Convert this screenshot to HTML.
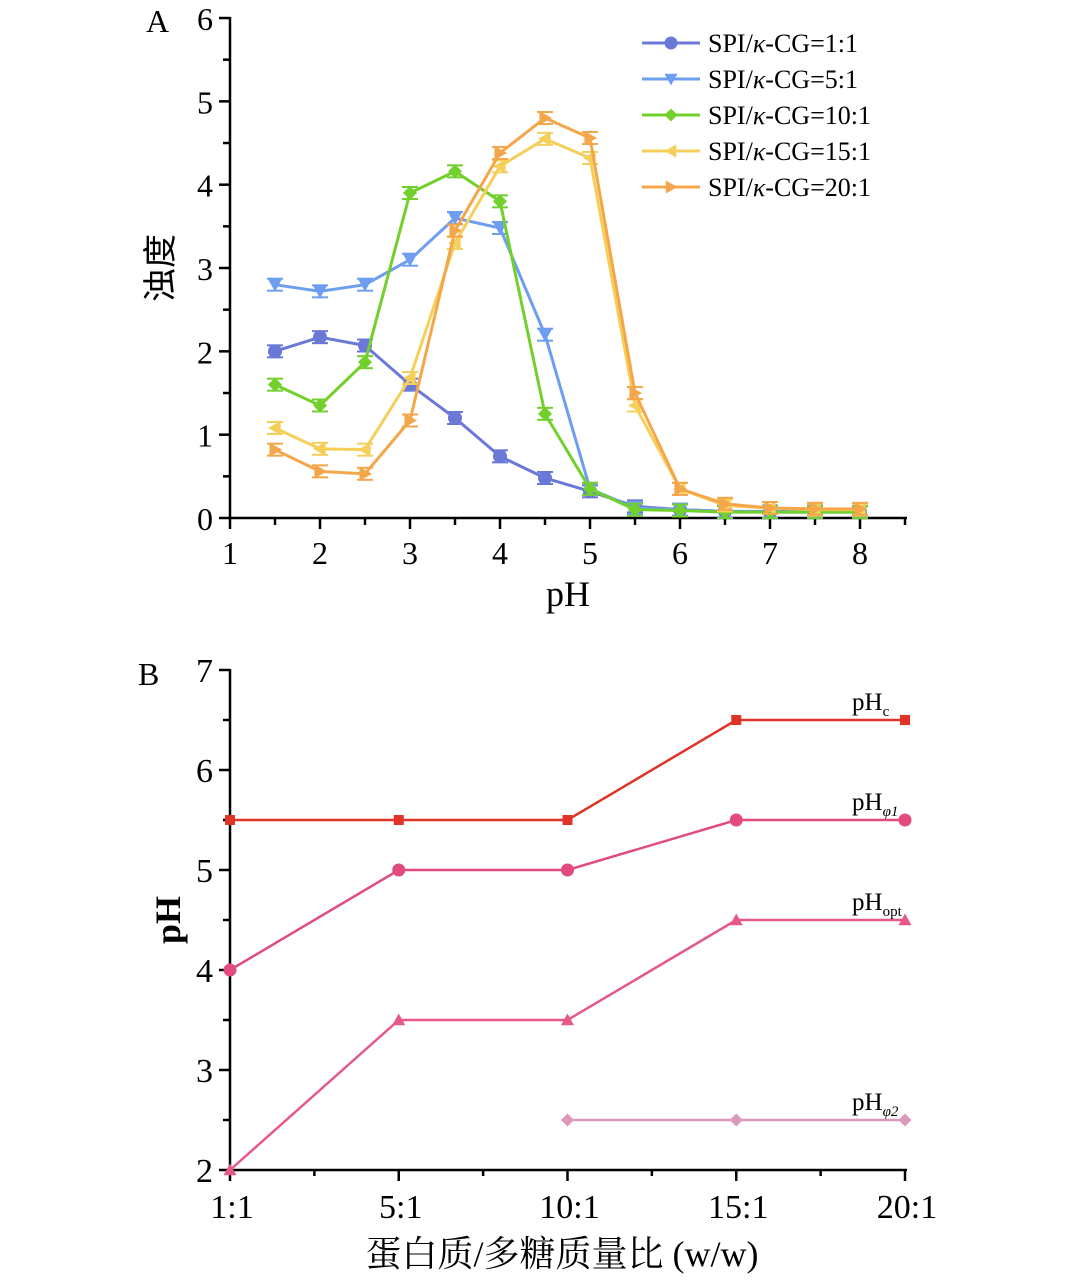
<!DOCTYPE html>
<html><head><meta charset="utf-8"><style>
html,body{margin:0;padding:0;background:#fff;}
svg{display:block;font-family:"Liberation Serif","Noto Serif CJK SC",serif;}
</style></head><body>
<svg id="c" width="1080" height="1280" viewBox="0 0 1080 1280" xmlns="http://www.w3.org/2000/svg"></svg>
<script>
const phValues=[1.5,2,2.5,3,3.5,4,4.5,5,5.5,6,6.5,7,7.5,8];
const s1=[2.0,2.17,2.07,1.6,1.2,0.74,0.48,0.32,0.14,0.1,0.08,0.07,0.07,0.07];
const s5=[2.8,2.72,2.8,3.1,3.6,3.48,2.2,0.35,0.12,0.1,0.08,0.08,0.08,0.07];
const s10=[1.6,1.35,1.87,3.9,4.16,3.8,1.25,0.35,0.1,0.09,0.07,0.07,0.07,0.07];
const s15=[1.08,0.83,0.82,1.68,3.3,4.22,4.55,4.32,1.35,0.35,0.15,0.12,0.1,0.1];
const s20=[0.82,0.56,0.53,1.17,3.45,4.38,4.8,4.56,1.5,0.35,0.17,0.12,0.11,0.11];
const seriesNamesA=["SPI/κ-CG=1:1","SPI/κ-CG=5:1","SPI/κ-CG=10:1","SPI/κ-CG=15:1","SPI/κ-CG=20:1"];
const xTicksA=[1,2,3,4,5,6,7,8];
const yTicksA=[0,1,2,3,4,5,6];
const ratioCats=["1:1","5:1","10:1","15:1","20:1"];
const pHc=[5.5,5.5,5.5,6.5,6.5];
const pHphi1=[4,5,5,5.5,5.5];
const pHopt=[2,3.5,3.5,4.5,4.5];
const pHphi2=[null,null,2.5,2.5,2.5];
const yTicksB=[2,3,4,5,6,7];

const svg=document.getElementById('c');
const NS="http://www.w3.org/2000/svg";
function el(tag,attrs,parent){const e=document.createElementNS(NS,tag);for(const k in attrs)e.setAttribute(k,attrs[k]);(parent||svg).appendChild(e);return e;}
function txt(s,attrs,parent){const e=el('text',attrs,parent);e.textContent=s;return e;}

const xA=v=>230+(v-1)*90;
const yA=v=>518-v*83.33;
const xB=i=>230+i*168.75;
const yB=v=>1170-(v-2)*100;

function marker(g,shape,x,y,color,r){
  let m;
  if(shape==='circle')m=el('circle',{cx:x,cy:y,r:r,fill:color},g);
  else if(shape==='down')m=el('polygon',{points:`${x-r},${y-r*0.8} ${x+r},${y-r*0.8} ${x},${y+r}`,fill:color},g);
  else if(shape==='up')m=el('polygon',{points:`${x-r},${y+r*0.8} ${x+r},${y+r*0.8} ${x},${y-r}`,fill:color},g);
  else if(shape==='diamond')m=el('polygon',{points:`${x},${y-r} ${x+r},${y} ${x},${y+r} ${x-r},${y}`,fill:color},g);
  else if(shape==='left')m=el('polygon',{points:`${x+r*0.8},${y-r} ${x+r*0.8},${y+r} ${x-r},${y}`,fill:color},g);
  else if(shape==='right')m=el('polygon',{points:`${x-r*0.8},${y-r} ${x-r*0.8},${y+r} ${x+r},${y}`,fill:color},g);
  else if(shape==='square')m=el('rect',{x:x-r,y:y-r,width:2*r,height:2*r,fill:color},g);
  return m;
}

// ---- Panel A ----
const gA=el('g',{});


const axA=el('g',{stroke:'#000','stroke-width':2.5},gA);


el('line',{x1:230,y1:17,x2:230,y2:519},axA);
el('line',{x1:229,y1:518,x2:907,y2:518},axA);
for(let v=1;v<=8.5;v+=0.5){const x=xA(v);el('line',{x1:x,y1:518,x2:x,y2:v%1===0?529:525},axA);}
for(let v=0;v<=6;v+=0.5){const y=yA(v);el('line',{x1:230,y1:y,x2:v%1===0?219:223,y2:y},axA);}
xTicksA.forEach(v=>{const t=txt(String(v),{x:xA(v),y:564,'font-size':32,'text-anchor':'middle'},gA);});
yTicksA.forEach(v=>{const t=txt(String(v),{x:213,y:yA(v)+12,'font-size':32,'text-anchor':'end'},gA);});
let t=txt('pH',{x:568,y:606,'font-size':36,'text-anchor':'middle'},gA);

t=txt('浊度',{x:0,y:0,'font-size':34,'text-anchor':'middle',transform:'translate(172,268) rotate(-90)','font-family':'"Noto Sans CJK SC",sans-serif'},gA);

t=txt('A',{x:146,y:32,'font-size':32},gA);


const seriesA=[s1,s5,s10,s15,s20];
const colorsA=['#6a78d8','#6d9ef0','#72d02c','#f5cf5a','#f4a64a'];
const shapesA=['circle','down','diamond','left','right'];
seriesA.forEach((arr,si)=>{
  const g=el('g',{},gA);
  
  
  const pts=arr.map((v,i)=>xA(phValues[i])+','+yA(v)).join(' ');
  el('polyline',{points:pts,fill:'none',stroke:colorsA[si],'stroke-width':3},g);
  arr.forEach((v,i)=>{
    const x=xA(phValues[i]),y=yA(v);
    el('line',{x1:x-8,y1:y-6,x2:x+8,y2:y-6,stroke:colorsA[si],'stroke-width':2},g);
    el('line',{x1:x-8,y1:y+6,x2:x+8,y2:y+6,stroke:colorsA[si],'stroke-width':2},g);
    const m=marker(g,shapesA[si],x,y,colorsA[si],7);
    
    
  });
  const ly=43+si*36;
  const lg=el('g',{},gA);
  
  
  el('line',{x1:642,y1:ly,x2:700,y2:ly,stroke:colorsA[si],'stroke-width':3},lg);
  marker(lg,shapesA[si],671,ly,colorsA[si],6.5);
  const lt=txt('',{x:708,y:ly+9,'font-size':26},lg);
  const parts=seriesNamesA[si].split('κ');
  const a=el('tspan',{},lt);a.textContent=parts[0];
  const b=el('tspan',{'font-style':'italic'},lt);b.textContent='κ';
  const c=el('tspan',{},lt);c.textContent=parts[1];
});

// ---- Panel B ----
const gB=el('g',{});


const axB=el('g',{stroke:'#000','stroke-width':2.5},gB);


el('line',{x1:230,y1:669,x2:230,y2:1171},axB);
el('line',{x1:229,y1:1170,x2:907,y2:1170},axB);
for(let i=0;i<=8;i++){const x=230+i*84.375;el('line',{x1:x,y1:1170,x2:x,y2:i%2===0?1181:1176},axB);}
for(let v=2;v<=7;v+=0.5){const y=yB(v);el('line',{x1:230,y1:y,x2:v%1===0?219:223,y2:y},axB);}
ratioCats.forEach((c,i)=>{const t=txt(c,{x:xB(i)+2,y:1218,'font-size':34,'text-anchor':'middle'},gB);});
yTicksB.forEach(v=>{const t=txt(String(v),{x:213,y:yB(v)+12,'font-size':34,'text-anchor':'end'},gB);});
t=txt('蛋白质/多糖质量比 (w/w)',{x:562,y:1266,'font-size':36,'text-anchor':'middle'},gB);

t=txt('pH',{x:0,y:0,'font-size':36,'font-weight':'bold','text-anchor':'middle',transform:'translate(180,920) rotate(-90)'},gB);

t=txt('B',{x:138,y:685,'font-size':32},gB);


const seriesB=[pHc,pHphi1,pHopt,pHphi2];
const colorsB=['#e03428','#e24b7c','#e55888','#dc98bb'];
const shapesB=['square','circle','up','diamond'];
const labB=[['pH','c',710],['pH','φ1',810],['pH','opt',910],['pH','φ2',1110]];
seriesB.forEach((arr,si)=>{
  const g=el('g',{},gB);
  
  
  const pts=arr.map((v,i)=>v==null?null:xB(i)+','+yB(v)).filter(p=>p).join(' ');
  el('polyline',{points:pts,fill:'none',stroke:colorsB[si],'stroke-width':2.5},g);
  arr.forEach((v,i)=>{if(v==null)return;const m=marker(g,shapesB[si],xB(i),yB(v),colorsB[si],si===0?5:6.5);});
  const lt=txt('',{x:852,y:labB[si][2],'font-size':25},g);
  
  
  const a=el('tspan',{},lt);a.textContent=labB[si][0];
  const b=el('tspan',{'font-size':15,dy:6,'font-style':si===1||si===3?'italic':'normal'},lt);b.textContent=labB[si][1];
});
</script>
</body></html>
